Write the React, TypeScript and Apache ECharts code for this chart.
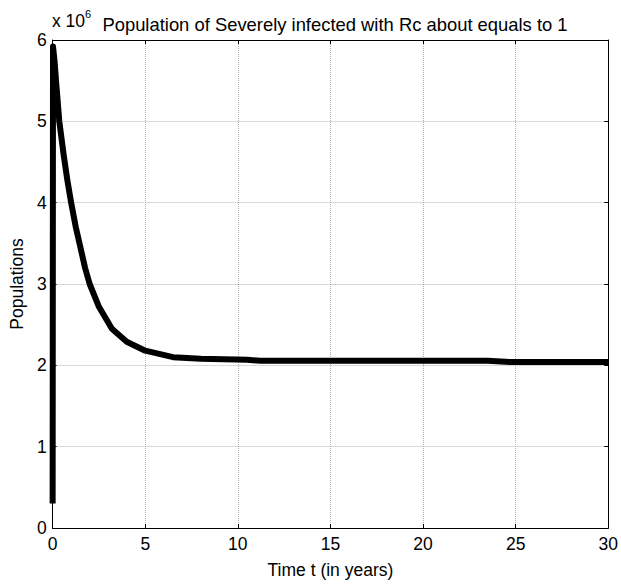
import React, { useEffect, useRef } from "react";
import * as echarts from "echarts";

const titleText = "Population of Severely infected with Rc about equals to 1";
const xName = "Time t (in years)";
const yName = "Populations";
const times = [0, 0.02, 0.1, 0.2, 0.36, 0.6, 0.8, 1.0, 1.25, 1.5, 1.75, 2.0, 2.5, 3.2, 4.0, 5.0, 6.5, 8, 10.5, 11.2, 23.5, 24.8, 30];
const values = [0.3, 5.92, 5.75, 5.45, 5.0, 4.58, 4.27, 4.0, 3.7, 3.45, 3.2, 3.0, 2.72, 2.45, 2.29, 2.18, 2.1, 2.08, 2.07, 2.055, 2.055, 2.04, 2.04];
const scale = 1e6;

export default function App() {
  const ref = useRef<HTMLDivElement>(null);
  useEffect(() => {
    if (!ref.current) return;
    const chart = echarts.init(ref.current, null, { renderer: "svg" });
    const font = "Liberation Sans, Arial, sans-serif";
    const fs = 17.5;
    const data = times.map((t, i) => [t, values[i] * scale]);
    const gridLine = { show: true, lineStyle: { color: "#b0b0b0", type: "dotted" as const, width: 1 } };
    const tickIn = { show: true, inside: true, length: 4, lineStyle: { color: "#000" } };
    chart.setOption({
      animation: false,
      backgroundColor: "#fff",
      title: {
        text: titleText,
        left: 330,
        textAlign: "center",
        top: 10,
        textStyle: { fontFamily: font, fontSize: 18.4, fontWeight: "normal", color: "#000" },
      },
      graphic: [
        { type: "text", left: 52, top: 12, style: { text: "x 10", font: `${fs}px ${font}`, fill: "#000" } },
        { type: "text", left: 85, top: 8, style: { text: "6", font: `11px ${font}`, fill: "#000" } },
      ],
      grid: { left: 50, right: 11, top: 40, bottom: 55, containLabel: false },
      xAxis: [
        {
          type: "value",
          min: 0,
          max: 30,
          interval: 5,
          name: xName,
          nameLocation: "middle",
          nameGap: 33,
          nameTextStyle: { fontFamily: font, fontSize: fs, color: "#000" },
          axisLine: { show: true, onZero: false, lineStyle: { color: "#000" } },
          axisTick: tickIn,
          axisLabel: { fontFamily: font, fontSize: fs, color: "#000", margin: 7 },
          splitLine: gridLine,
        },
        {
          type: "value",
          position: "top",
          min: 0,
          max: 30,
          interval: 5,
          axisLine: { show: true, onZero: false, lineStyle: { color: "#000" } },
          axisTick: tickIn,
          axisLabel: { show: false },
          splitLine: { show: false },
        },
      ],
      yAxis: [
        {
          type: "value",
          min: 0,
          max: 6 * scale,
          interval: scale,
          name: yName,
          nameLocation: "middle",
          nameGap: 23,
          nameTextStyle: { fontFamily: font, fontSize: fs, color: "#000" },
          axisLine: { show: true, onZero: false, lineStyle: { color: "#000" } },
          axisTick: tickIn,
          axisLabel: { fontFamily: font, fontSize: fs, color: "#000", margin: 6, formatter: (v: number) => String(Math.round(v / scale)) },
          splitLine: gridLine,
        },
        {
          type: "value",
          position: "right",
          min: 0,
          max: 6 * scale,
          interval: scale,
          axisLine: { show: true, onZero: false, lineStyle: { color: "#000" } },
          axisTick: tickIn,
          axisLabel: { show: false },
          splitLine: { show: false },
        },
      ],
      series: [
        {
          type: "line",
          data,
          showSymbol: false,
          symbol: "none",
          clip: false,
          lineStyle: { color: "#000", width: 6, join: "round", cap: "butt" },
          xAxisIndex: 0,
          yAxisIndex: 0,
        },
      ],
    });
    return () => chart.dispose();
  }, []);
  return <div ref={ref} style={{ position: "absolute", left: 0, top: 0, width: 621, height: 584 }} />;
}
